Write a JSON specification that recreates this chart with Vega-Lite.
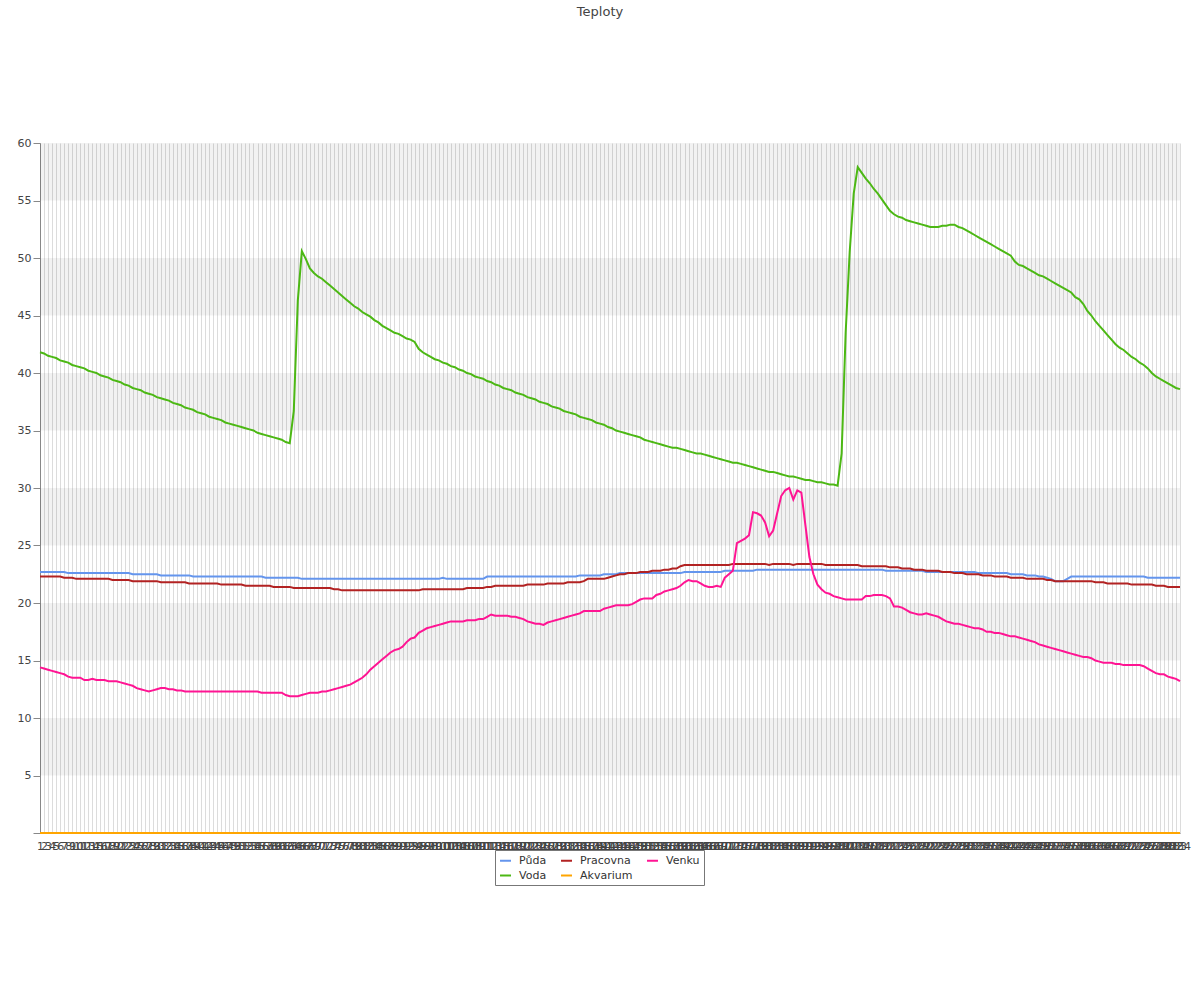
{
"$schema": "https://vega.github.io/schema/vega-lite/v6.json",
"width": 1140,
"height": 690,
"autosize": {"type": "none"},
"padding": {"left": 40, "top": 143, "right": 20, "bottom": 167},
"background": "white",
"title": {"text": "Teploty", "font": "DejaVu Sans", "fontSize": 13, "fontWeight": "normal", "color": "#444444", "frame": "group", "offset": 118, "dx": -10},
"config": {"view": {"stroke": null}, "font": "DejaVu Sans",
"axisY": {"title": null, "values": [0,1,2,3,4,5,6,7,8,9,10,11,12,13,14,15,16,17,18,19,20,21,22,23,24,25,26,27,28,29,30,31,32,33,34,35,36,37,38,39,40,41,42,43,44,45,46,47,48,49,50,51,52,53,54,55,56,57,58,59,60],
"labelExpr": "datum.value % 5 === 0 && datum.value > 0 ? datum.label : ''",
"tickSize": {"condition": {"test": "datum.value % 5 === 0", "value": 7}, "value": 3},
"gridOpacity": {"condition": {"test": "datum.value % 5 === 0 && datum.value > 0", "value": 1}, "value": 0},
"gridColor": "#dcdcdc", "tickColor": "#888888", "domainColor": "#888888", "labelFontSize": 11, "labelColor": "#444444", "labelFont": "DejaVu Sans", "labelPadding": 2}
},
"datasets": {
"bands": [{"lo": 5, "hi": 10}, {"lo": 15, "hi": 20}, {"lo": 25, "hi": 30}, {"lo": 35, "hi": 40}, {"lo": 45, "hi": 50}, {"lo": 55, "hi": 60}],
"t": [
{"i":1,"Půda":22.7,"Voda":41.8,"Pracovna":22.3,"Akvarium":0,"Venku":14.4},
{"i":2,"Půda":22.7,"Voda":41.7,"Pracovna":22.3,"Akvarium":0,"Venku":14.3},
{"i":3,"Půda":22.7,"Voda":41.5,"Pracovna":22.3,"Akvarium":0,"Venku":14.2},
{"i":4,"Půda":22.7,"Voda":41.4,"Pracovna":22.3,"Akvarium":0,"Venku":14.1},
{"i":5,"Půda":22.7,"Voda":41.3,"Pracovna":22.3,"Akvarium":0,"Venku":14.0},
{"i":6,"Půda":22.7,"Voda":41.1,"Pracovna":22.3,"Akvarium":0,"Venku":13.9},
{"i":7,"Půda":22.7,"Voda":41.0,"Pracovna":22.2,"Akvarium":0,"Venku":13.8},
{"i":8,"Půda":22.6,"Voda":40.9,"Pracovna":22.2,"Akvarium":0,"Venku":13.6},
{"i":9,"Půda":22.6,"Voda":40.7,"Pracovna":22.2,"Akvarium":0,"Venku":13.5},
{"i":10,"Půda":22.6,"Voda":40.6,"Pracovna":22.1,"Akvarium":0,"Venku":13.5},
{"i":11,"Půda":22.6,"Voda":40.5,"Pracovna":22.1,"Akvarium":0,"Venku":13.5},
{"i":12,"Půda":22.6,"Voda":40.4,"Pracovna":22.1,"Akvarium":0,"Venku":13.3},
{"i":13,"Půda":22.6,"Voda":40.2,"Pracovna":22.1,"Akvarium":0,"Venku":13.3},
{"i":14,"Půda":22.6,"Voda":40.1,"Pracovna":22.1,"Akvarium":0,"Venku":13.4},
{"i":15,"Půda":22.6,"Voda":40.0,"Pracovna":22.1,"Akvarium":0,"Venku":13.3},
{"i":16,"Půda":22.6,"Voda":39.8,"Pracovna":22.1,"Akvarium":0,"Venku":13.3},
{"i":17,"Půda":22.6,"Voda":39.7,"Pracovna":22.1,"Akvarium":0,"Venku":13.3},
{"i":18,"Půda":22.6,"Voda":39.6,"Pracovna":22.1,"Akvarium":0,"Venku":13.2},
{"i":19,"Půda":22.6,"Voda":39.4,"Pracovna":22.0,"Akvarium":0,"Venku":13.2},
{"i":20,"Půda":22.6,"Voda":39.3,"Pracovna":22.0,"Akvarium":0,"Venku":13.2},
{"i":21,"Půda":22.6,"Voda":39.2,"Pracovna":22.0,"Akvarium":0,"Venku":13.1},
{"i":22,"Půda":22.6,"Voda":39.0,"Pracovna":22.0,"Akvarium":0,"Venku":13.0},
{"i":23,"Půda":22.6,"Voda":38.9,"Pracovna":22.0,"Akvarium":0,"Venku":12.9},
{"i":24,"Půda":22.5,"Voda":38.7,"Pracovna":21.9,"Akvarium":0,"Venku":12.8},
{"i":25,"Půda":22.5,"Voda":38.6,"Pracovna":21.9,"Akvarium":0,"Venku":12.6},
{"i":26,"Půda":22.5,"Voda":38.5,"Pracovna":21.9,"Akvarium":0,"Venku":12.5},
{"i":27,"Půda":22.5,"Voda":38.3,"Pracovna":21.9,"Akvarium":0,"Venku":12.4},
{"i":28,"Půda":22.5,"Voda":38.2,"Pracovna":21.9,"Akvarium":0,"Venku":12.3},
{"i":29,"Půda":22.5,"Voda":38.1,"Pracovna":21.9,"Akvarium":0,"Venku":12.4},
{"i":30,"Půda":22.5,"Voda":37.9,"Pracovna":21.9,"Akvarium":0,"Venku":12.5},
{"i":31,"Půda":22.4,"Voda":37.8,"Pracovna":21.8,"Akvarium":0,"Venku":12.6},
{"i":32,"Půda":22.4,"Voda":37.7,"Pracovna":21.8,"Akvarium":0,"Venku":12.6},
{"i":33,"Půda":22.4,"Voda":37.6,"Pracovna":21.8,"Akvarium":0,"Venku":12.5},
{"i":34,"Půda":22.4,"Voda":37.4,"Pracovna":21.8,"Akvarium":0,"Venku":12.5},
{"i":35,"Půda":22.4,"Voda":37.3,"Pracovna":21.8,"Akvarium":0,"Venku":12.4},
{"i":36,"Půda":22.4,"Voda":37.2,"Pracovna":21.8,"Akvarium":0,"Venku":12.4},
{"i":37,"Půda":22.4,"Voda":37.0,"Pracovna":21.8,"Akvarium":0,"Venku":12.3},
{"i":38,"Půda":22.4,"Voda":36.9,"Pracovna":21.7,"Akvarium":0,"Venku":12.3},
{"i":39,"Půda":22.3,"Voda":36.8,"Pracovna":21.7,"Akvarium":0,"Venku":12.3},
{"i":40,"Půda":22.3,"Voda":36.6,"Pracovna":21.7,"Akvarium":0,"Venku":12.3},
{"i":41,"Půda":22.3,"Voda":36.5,"Pracovna":21.7,"Akvarium":0,"Venku":12.3},
{"i":42,"Půda":22.3,"Voda":36.4,"Pracovna":21.7,"Akvarium":0,"Venku":12.3},
{"i":43,"Půda":22.3,"Voda":36.2,"Pracovna":21.7,"Akvarium":0,"Venku":12.3},
{"i":44,"Půda":22.3,"Voda":36.1,"Pracovna":21.7,"Akvarium":0,"Venku":12.3},
{"i":45,"Půda":22.3,"Voda":36.0,"Pracovna":21.7,"Akvarium":0,"Venku":12.3},
{"i":46,"Půda":22.3,"Voda":35.9,"Pracovna":21.6,"Akvarium":0,"Venku":12.3},
{"i":47,"Půda":22.3,"Voda":35.7,"Pracovna":21.6,"Akvarium":0,"Venku":12.3},
{"i":48,"Půda":22.3,"Voda":35.6,"Pracovna":21.6,"Akvarium":0,"Venku":12.3},
{"i":49,"Půda":22.3,"Voda":35.5,"Pracovna":21.6,"Akvarium":0,"Venku":12.3},
{"i":50,"Půda":22.3,"Voda":35.4,"Pracovna":21.6,"Akvarium":0,"Venku":12.3},
{"i":51,"Půda":22.3,"Voda":35.3,"Pracovna":21.6,"Akvarium":0,"Venku":12.3},
{"i":52,"Půda":22.3,"Voda":35.2,"Pracovna":21.5,"Akvarium":0,"Venku":12.3},
{"i":53,"Půda":22.3,"Voda":35.1,"Pracovna":21.5,"Akvarium":0,"Venku":12.3},
{"i":54,"Půda":22.3,"Voda":35.0,"Pracovna":21.5,"Akvarium":0,"Venku":12.3},
{"i":55,"Půda":22.3,"Voda":34.8,"Pracovna":21.5,"Akvarium":0,"Venku":12.3},
{"i":56,"Půda":22.3,"Voda":34.7,"Pracovna":21.5,"Akvarium":0,"Venku":12.2},
{"i":57,"Půda":22.2,"Voda":34.6,"Pracovna":21.5,"Akvarium":0,"Venku":12.2},
{"i":58,"Půda":22.2,"Voda":34.5,"Pracovna":21.5,"Akvarium":0,"Venku":12.2},
{"i":59,"Půda":22.2,"Voda":34.4,"Pracovna":21.4,"Akvarium":0,"Venku":12.2},
{"i":60,"Půda":22.2,"Voda":34.3,"Pracovna":21.4,"Akvarium":0,"Venku":12.2},
{"i":61,"Půda":22.2,"Voda":34.2,"Pracovna":21.4,"Akvarium":0,"Venku":12.2},
{"i":62,"Půda":22.2,"Voda":34.0,"Pracovna":21.4,"Akvarium":0,"Venku":12.0},
{"i":63,"Půda":22.2,"Voda":33.9,"Pracovna":21.4,"Akvarium":0,"Venku":11.9},
{"i":64,"Půda":22.2,"Voda":36.7,"Pracovna":21.3,"Akvarium":0,"Venku":11.9},
{"i":65,"Půda":22.2,"Voda":46.3,"Pracovna":21.3,"Akvarium":0,"Venku":11.9},
{"i":66,"Půda":22.1,"Voda":50.6,"Pracovna":21.3,"Akvarium":0,"Venku":12.0},
{"i":67,"Půda":22.1,"Voda":49.9,"Pracovna":21.3,"Akvarium":0,"Venku":12.1},
{"i":68,"Půda":22.1,"Voda":49.1,"Pracovna":21.3,"Akvarium":0,"Venku":12.2},
{"i":69,"Půda":22.1,"Voda":48.7,"Pracovna":21.3,"Akvarium":0,"Venku":12.2},
{"i":70,"Půda":22.1,"Voda":48.4,"Pracovna":21.3,"Akvarium":0,"Venku":12.2},
{"i":71,"Půda":22.1,"Voda":48.2,"Pracovna":21.3,"Akvarium":0,"Venku":12.3},
{"i":72,"Půda":22.1,"Voda":47.9,"Pracovna":21.3,"Akvarium":0,"Venku":12.3},
{"i":73,"Půda":22.1,"Voda":47.6,"Pracovna":21.3,"Akvarium":0,"Venku":12.4},
{"i":74,"Půda":22.1,"Voda":47.3,"Pracovna":21.2,"Akvarium":0,"Venku":12.5},
{"i":75,"Půda":22.1,"Voda":47.0,"Pracovna":21.2,"Akvarium":0,"Venku":12.6},
{"i":76,"Půda":22.1,"Voda":46.7,"Pracovna":21.1,"Akvarium":0,"Venku":12.7},
{"i":77,"Půda":22.1,"Voda":46.4,"Pracovna":21.1,"Akvarium":0,"Venku":12.8},
{"i":78,"Půda":22.1,"Voda":46.1,"Pracovna":21.1,"Akvarium":0,"Venku":12.9},
{"i":79,"Půda":22.1,"Voda":45.8,"Pracovna":21.1,"Akvarium":0,"Venku":13.1},
{"i":80,"Půda":22.1,"Voda":45.6,"Pracovna":21.1,"Akvarium":0,"Venku":13.3},
{"i":81,"Půda":22.1,"Voda":45.3,"Pracovna":21.1,"Akvarium":0,"Venku":13.5},
{"i":82,"Půda":22.1,"Voda":45.1,"Pracovna":21.1,"Akvarium":0,"Venku":13.8},
{"i":83,"Půda":22.1,"Voda":44.9,"Pracovna":21.1,"Akvarium":0,"Venku":14.2},
{"i":84,"Půda":22.1,"Voda":44.6,"Pracovna":21.1,"Akvarium":0,"Venku":14.5},
{"i":85,"Půda":22.1,"Voda":44.4,"Pracovna":21.1,"Akvarium":0,"Venku":14.8},
{"i":86,"Půda":22.1,"Voda":44.1,"Pracovna":21.1,"Akvarium":0,"Venku":15.1},
{"i":87,"Půda":22.1,"Voda":43.9,"Pracovna":21.1,"Akvarium":0,"Venku":15.4},
{"i":88,"Půda":22.1,"Voda":43.7,"Pracovna":21.1,"Akvarium":0,"Venku":15.7},
{"i":89,"Půda":22.1,"Voda":43.5,"Pracovna":21.1,"Akvarium":0,"Venku":15.9},
{"i":90,"Půda":22.1,"Voda":43.4,"Pracovna":21.1,"Akvarium":0,"Venku":16.0},
{"i":91,"Půda":22.1,"Voda":43.2,"Pracovna":21.1,"Akvarium":0,"Venku":16.2},
{"i":92,"Půda":22.1,"Voda":43.0,"Pracovna":21.1,"Akvarium":0,"Venku":16.6},
{"i":93,"Půda":22.1,"Voda":42.9,"Pracovna":21.1,"Akvarium":0,"Venku":16.9},
{"i":94,"Půda":22.1,"Voda":42.7,"Pracovna":21.1,"Akvarium":0,"Venku":17.0},
{"i":95,"Půda":22.1,"Voda":42.1,"Pracovna":21.1,"Akvarium":0,"Venku":17.4},
{"i":96,"Půda":22.1,"Voda":41.8,"Pracovna":21.2,"Akvarium":0,"Venku":17.6},
{"i":97,"Půda":22.1,"Voda":41.6,"Pracovna":21.2,"Akvarium":0,"Venku":17.8},
{"i":98,"Půda":22.1,"Voda":41.4,"Pracovna":21.2,"Akvarium":0,"Venku":17.9},
{"i":99,"Půda":22.1,"Voda":41.2,"Pracovna":21.2,"Akvarium":0,"Venku":18.0},
{"i":100,"Půda":22.1,"Voda":41.1,"Pracovna":21.2,"Akvarium":0,"Venku":18.1},
{"i":101,"Půda":22.2,"Voda":40.9,"Pracovna":21.2,"Akvarium":0,"Venku":18.2},
{"i":102,"Půda":22.1,"Voda":40.8,"Pracovna":21.2,"Akvarium":0,"Venku":18.3},
{"i":103,"Půda":22.1,"Voda":40.6,"Pracovna":21.2,"Akvarium":0,"Venku":18.4},
{"i":104,"Půda":22.1,"Voda":40.5,"Pracovna":21.2,"Akvarium":0,"Venku":18.4},
{"i":105,"Půda":22.1,"Voda":40.3,"Pracovna":21.2,"Akvarium":0,"Venku":18.4},
{"i":106,"Půda":22.1,"Voda":40.2,"Pracovna":21.2,"Akvarium":0,"Venku":18.4},
{"i":107,"Půda":22.1,"Voda":40.0,"Pracovna":21.3,"Akvarium":0,"Venku":18.5},
{"i":108,"Půda":22.1,"Voda":39.9,"Pracovna":21.3,"Akvarium":0,"Venku":18.5},
{"i":109,"Půda":22.1,"Voda":39.7,"Pracovna":21.3,"Akvarium":0,"Venku":18.5},
{"i":110,"Půda":22.1,"Voda":39.6,"Pracovna":21.3,"Akvarium":0,"Venku":18.6},
{"i":111,"Půda":22.1,"Voda":39.5,"Pracovna":21.3,"Akvarium":0,"Venku":18.6},
{"i":112,"Půda":22.3,"Voda":39.3,"Pracovna":21.4,"Akvarium":0,"Venku":18.8},
{"i":113,"Půda":22.3,"Voda":39.2,"Pracovna":21.4,"Akvarium":0,"Venku":19.0},
{"i":114,"Půda":22.3,"Voda":39.0,"Pracovna":21.5,"Akvarium":0,"Venku":18.9},
{"i":115,"Půda":22.3,"Voda":38.9,"Pracovna":21.5,"Akvarium":0,"Venku":18.9},
{"i":116,"Půda":22.3,"Voda":38.7,"Pracovna":21.5,"Akvarium":0,"Venku":18.9},
{"i":117,"Půda":22.3,"Voda":38.6,"Pracovna":21.5,"Akvarium":0,"Venku":18.9},
{"i":118,"Půda":22.3,"Voda":38.5,"Pracovna":21.5,"Akvarium":0,"Venku":18.8},
{"i":119,"Půda":22.3,"Voda":38.3,"Pracovna":21.5,"Akvarium":0,"Venku":18.8},
{"i":120,"Půda":22.3,"Voda":38.2,"Pracovna":21.5,"Akvarium":0,"Venku":18.7},
{"i":121,"Půda":22.3,"Voda":38.1,"Pracovna":21.5,"Akvarium":0,"Venku":18.6},
{"i":122,"Půda":22.3,"Voda":37.9,"Pracovna":21.6,"Akvarium":0,"Venku":18.4},
{"i":123,"Půda":22.3,"Voda":37.8,"Pracovna":21.6,"Akvarium":0,"Venku":18.3},
{"i":124,"Půda":22.3,"Voda":37.7,"Pracovna":21.6,"Akvarium":0,"Venku":18.2},
{"i":125,"Půda":22.3,"Voda":37.5,"Pracovna":21.6,"Akvarium":0,"Venku":18.2},
{"i":126,"Půda":22.3,"Voda":37.4,"Pracovna":21.6,"Akvarium":0,"Venku":18.1},
{"i":127,"Půda":22.3,"Voda":37.3,"Pracovna":21.7,"Akvarium":0,"Venku":18.3},
{"i":128,"Půda":22.3,"Voda":37.1,"Pracovna":21.7,"Akvarium":0,"Venku":18.4},
{"i":129,"Půda":22.3,"Voda":37.0,"Pracovna":21.7,"Akvarium":0,"Venku":18.5},
{"i":130,"Půda":22.3,"Voda":36.9,"Pracovna":21.7,"Akvarium":0,"Venku":18.6},
{"i":131,"Půda":22.3,"Voda":36.7,"Pracovna":21.7,"Akvarium":0,"Venku":18.7},
{"i":132,"Půda":22.3,"Voda":36.6,"Pracovna":21.8,"Akvarium":0,"Venku":18.8},
{"i":133,"Půda":22.3,"Voda":36.5,"Pracovna":21.8,"Akvarium":0,"Venku":18.9},
{"i":134,"Půda":22.3,"Voda":36.4,"Pracovna":21.8,"Akvarium":0,"Venku":19.0},
{"i":135,"Půda":22.4,"Voda":36.2,"Pracovna":21.8,"Akvarium":0,"Venku":19.1},
{"i":136,"Půda":22.4,"Voda":36.1,"Pracovna":21.9,"Akvarium":0,"Venku":19.3},
{"i":137,"Půda":22.4,"Voda":36.0,"Pracovna":22.1,"Akvarium":0,"Venku":19.3},
{"i":138,"Půda":22.4,"Voda":35.9,"Pracovna":22.1,"Akvarium":0,"Venku":19.3},
{"i":139,"Půda":22.4,"Voda":35.7,"Pracovna":22.1,"Akvarium":0,"Venku":19.3},
{"i":140,"Půda":22.4,"Voda":35.6,"Pracovna":22.1,"Akvarium":0,"Venku":19.3},
{"i":141,"Půda":22.5,"Voda":35.5,"Pracovna":22.1,"Akvarium":0,"Venku":19.5},
{"i":142,"Půda":22.5,"Voda":35.3,"Pracovna":22.2,"Akvarium":0,"Venku":19.6},
{"i":143,"Půda":22.5,"Voda":35.2,"Pracovna":22.3,"Akvarium":0,"Venku":19.7},
{"i":144,"Půda":22.5,"Voda":35.0,"Pracovna":22.4,"Akvarium":0,"Venku":19.8},
{"i":145,"Půda":22.6,"Voda":34.9,"Pracovna":22.5,"Akvarium":0,"Venku":19.8},
{"i":146,"Půda":22.6,"Voda":34.8,"Pracovna":22.5,"Akvarium":0,"Venku":19.8},
{"i":147,"Půda":22.6,"Voda":34.7,"Pracovna":22.6,"Akvarium":0,"Venku":19.8},
{"i":148,"Půda":22.6,"Voda":34.6,"Pracovna":22.6,"Akvarium":0,"Venku":19.9},
{"i":149,"Půda":22.6,"Voda":34.5,"Pracovna":22.6,"Akvarium":0,"Venku":20.1},
{"i":150,"Půda":22.6,"Voda":34.4,"Pracovna":22.7,"Akvarium":0,"Venku":20.3},
{"i":151,"Půda":22.6,"Voda":34.2,"Pracovna":22.7,"Akvarium":0,"Venku":20.4},
{"i":152,"Půda":22.6,"Voda":34.1,"Pracovna":22.7,"Akvarium":0,"Venku":20.4},
{"i":153,"Půda":22.6,"Voda":34.0,"Pracovna":22.8,"Akvarium":0,"Venku":20.4},
{"i":154,"Půda":22.6,"Voda":33.9,"Pracovna":22.8,"Akvarium":0,"Venku":20.7},
{"i":155,"Půda":22.6,"Voda":33.8,"Pracovna":22.8,"Akvarium":0,"Venku":20.8},
{"i":156,"Půda":22.6,"Voda":33.7,"Pracovna":22.9,"Akvarium":0,"Venku":21.0},
{"i":157,"Půda":22.6,"Voda":33.6,"Pracovna":22.9,"Akvarium":0,"Venku":21.1},
{"i":158,"Půda":22.6,"Voda":33.5,"Pracovna":23.0,"Akvarium":0,"Venku":21.2},
{"i":159,"Půda":22.6,"Voda":33.5,"Pracovna":23.0,"Akvarium":0,"Venku":21.3},
{"i":160,"Půda":22.6,"Voda":33.4,"Pracovna":23.2,"Akvarium":0,"Venku":21.5},
{"i":161,"Půda":22.7,"Voda":33.3,"Pracovna":23.3,"Akvarium":0,"Venku":21.8},
{"i":162,"Půda":22.7,"Voda":33.2,"Pracovna":23.3,"Akvarium":0,"Venku":22.0},
{"i":163,"Půda":22.7,"Voda":33.1,"Pracovna":23.3,"Akvarium":0,"Venku":21.9},
{"i":164,"Půda":22.7,"Voda":33.0,"Pracovna":23.3,"Akvarium":0,"Venku":21.9},
{"i":165,"Půda":22.7,"Voda":33.0,"Pracovna":23.3,"Akvarium":0,"Venku":21.7},
{"i":166,"Půda":22.7,"Voda":32.9,"Pracovna":23.3,"Akvarium":0,"Venku":21.5},
{"i":167,"Půda":22.7,"Voda":32.8,"Pracovna":23.3,"Akvarium":0,"Venku":21.4},
{"i":168,"Půda":22.7,"Voda":32.7,"Pracovna":23.3,"Akvarium":0,"Venku":21.4},
{"i":169,"Půda":22.7,"Voda":32.6,"Pracovna":23.3,"Akvarium":0,"Venku":21.5},
{"i":170,"Půda":22.7,"Voda":32.5,"Pracovna":23.3,"Akvarium":0,"Venku":21.4},
{"i":171,"Půda":22.8,"Voda":32.4,"Pracovna":23.3,"Akvarium":0,"Venku":22.2},
{"i":172,"Půda":22.8,"Voda":32.3,"Pracovna":23.3,"Akvarium":0,"Venku":22.5},
{"i":173,"Půda":22.8,"Voda":32.2,"Pracovna":23.4,"Akvarium":0,"Venku":22.8},
{"i":174,"Půda":22.8,"Voda":32.2,"Pracovna":23.4,"Akvarium":0,"Venku":25.2},
{"i":175,"Půda":22.8,"Voda":32.1,"Pracovna":23.4,"Akvarium":0,"Venku":25.4},
{"i":176,"Půda":22.8,"Voda":32.0,"Pracovna":23.4,"Akvarium":0,"Venku":25.6},
{"i":177,"Půda":22.8,"Voda":31.9,"Pracovna":23.4,"Akvarium":0,"Venku":25.9},
{"i":178,"Půda":22.8,"Voda":31.8,"Pracovna":23.4,"Akvarium":0,"Venku":27.9},
{"i":179,"Půda":22.9,"Voda":31.7,"Pracovna":23.4,"Akvarium":0,"Venku":27.8},
{"i":180,"Půda":22.9,"Voda":31.6,"Pracovna":23.4,"Akvarium":0,"Venku":27.6},
{"i":181,"Půda":22.9,"Voda":31.5,"Pracovna":23.4,"Akvarium":0,"Venku":27.0},
{"i":182,"Půda":22.9,"Voda":31.4,"Pracovna":23.3,"Akvarium":0,"Venku":25.8},
{"i":183,"Půda":22.9,"Voda":31.4,"Pracovna":23.4,"Akvarium":0,"Venku":26.3},
{"i":184,"Půda":22.9,"Voda":31.3,"Pracovna":23.4,"Akvarium":0,"Venku":27.8},
{"i":185,"Půda":22.9,"Voda":31.2,"Pracovna":23.4,"Akvarium":0,"Venku":29.3},
{"i":186,"Půda":22.9,"Voda":31.1,"Pracovna":23.4,"Akvarium":0,"Venku":29.8},
{"i":187,"Půda":22.9,"Voda":31.0,"Pracovna":23.4,"Akvarium":0,"Venku":30.0},
{"i":188,"Půda":22.9,"Voda":31.0,"Pracovna":23.3,"Akvarium":0,"Venku":29.0},
{"i":189,"Půda":22.9,"Voda":30.9,"Pracovna":23.4,"Akvarium":0,"Venku":29.8},
{"i":190,"Půda":22.9,"Voda":30.8,"Pracovna":23.4,"Akvarium":0,"Venku":29.6},
{"i":191,"Půda":22.9,"Voda":30.7,"Pracovna":23.4,"Akvarium":0,"Venku":26.8},
{"i":192,"Půda":22.9,"Voda":30.7,"Pracovna":23.4,"Akvarium":0,"Venku":24.0},
{"i":193,"Půda":22.9,"Voda":30.6,"Pracovna":23.4,"Akvarium":0,"Venku":22.5},
{"i":194,"Půda":22.9,"Voda":30.5,"Pracovna":23.4,"Akvarium":0,"Venku":21.6},
{"i":195,"Půda":22.9,"Voda":30.5,"Pracovna":23.4,"Akvarium":0,"Venku":21.2},
{"i":196,"Půda":22.9,"Voda":30.4,"Pracovna":23.3,"Akvarium":0,"Venku":20.9},
{"i":197,"Půda":22.9,"Voda":30.3,"Pracovna":23.3,"Akvarium":0,"Venku":20.8},
{"i":198,"Půda":22.9,"Voda":30.3,"Pracovna":23.3,"Akvarium":0,"Venku":20.6},
{"i":199,"Půda":22.9,"Voda":30.2,"Pracovna":23.3,"Akvarium":0,"Venku":20.5},
{"i":200,"Půda":22.9,"Voda":33.0,"Pracovna":23.3,"Akvarium":0,"Venku":20.4},
{"i":201,"Půda":22.9,"Voda":43.5,"Pracovna":23.3,"Akvarium":0,"Venku":20.3},
{"i":202,"Půda":22.9,"Voda":50.5,"Pracovna":23.3,"Akvarium":0,"Venku":20.3},
{"i":203,"Půda":22.9,"Voda":55.6,"Pracovna":23.3,"Akvarium":0,"Venku":20.3},
{"i":204,"Půda":22.9,"Voda":57.9,"Pracovna":23.3,"Akvarium":0,"Venku":20.3},
{"i":205,"Půda":22.9,"Voda":57.4,"Pracovna":23.2,"Akvarium":0,"Venku":20.3},
{"i":206,"Půda":22.9,"Voda":56.9,"Pracovna":23.2,"Akvarium":0,"Venku":20.6},
{"i":207,"Půda":22.9,"Voda":56.5,"Pracovna":23.2,"Akvarium":0,"Venku":20.6},
{"i":208,"Půda":22.9,"Voda":56.0,"Pracovna":23.2,"Akvarium":0,"Venku":20.7},
{"i":209,"Půda":22.9,"Voda":55.6,"Pracovna":23.2,"Akvarium":0,"Venku":20.7},
{"i":210,"Půda":22.9,"Voda":55.1,"Pracovna":23.2,"Akvarium":0,"Venku":20.7},
{"i":211,"Půda":22.8,"Voda":54.6,"Pracovna":23.2,"Akvarium":0,"Venku":20.6},
{"i":212,"Půda":22.8,"Voda":54.1,"Pracovna":23.1,"Akvarium":0,"Venku":20.4},
{"i":213,"Půda":22.8,"Voda":53.8,"Pracovna":23.1,"Akvarium":0,"Venku":19.7},
{"i":214,"Půda":22.8,"Voda":53.6,"Pracovna":23.1,"Akvarium":0,"Venku":19.7},
{"i":215,"Půda":22.8,"Voda":53.5,"Pracovna":23.0,"Akvarium":0,"Venku":19.6},
{"i":216,"Půda":22.8,"Voda":53.3,"Pracovna":23.0,"Akvarium":0,"Venku":19.4},
{"i":217,"Půda":22.8,"Voda":53.2,"Pracovna":23.0,"Akvarium":0,"Venku":19.2},
{"i":218,"Půda":22.8,"Voda":53.1,"Pracovna":22.9,"Akvarium":0,"Venku":19.1},
{"i":219,"Půda":22.8,"Voda":53.0,"Pracovna":22.9,"Akvarium":0,"Venku":19.0},
{"i":220,"Půda":22.8,"Voda":52.9,"Pracovna":22.9,"Akvarium":0,"Venku":19.0},
{"i":221,"Půda":22.7,"Voda":52.8,"Pracovna":22.8,"Akvarium":0,"Venku":19.1},
{"i":222,"Půda":22.7,"Voda":52.7,"Pracovna":22.8,"Akvarium":0,"Venku":19.0},
{"i":223,"Půda":22.7,"Voda":52.7,"Pracovna":22.8,"Akvarium":0,"Venku":18.9},
{"i":224,"Půda":22.7,"Voda":52.7,"Pracovna":22.8,"Akvarium":0,"Venku":18.8},
{"i":225,"Půda":22.7,"Voda":52.8,"Pracovna":22.7,"Akvarium":0,"Venku":18.6},
{"i":226,"Půda":22.7,"Voda":52.8,"Pracovna":22.7,"Akvarium":0,"Venku":18.4},
{"i":227,"Půda":22.7,"Voda":52.9,"Pracovna":22.7,"Akvarium":0,"Venku":18.3},
{"i":228,"Půda":22.7,"Voda":52.9,"Pracovna":22.6,"Akvarium":0,"Venku":18.2},
{"i":229,"Půda":22.7,"Voda":52.7,"Pracovna":22.6,"Akvarium":0,"Venku":18.2},
{"i":230,"Půda":22.7,"Voda":52.6,"Pracovna":22.6,"Akvarium":0,"Venku":18.1},
{"i":231,"Půda":22.7,"Voda":52.4,"Pracovna":22.5,"Akvarium":0,"Venku":18.0},
{"i":232,"Půda":22.7,"Voda":52.2,"Pracovna":22.5,"Akvarium":0,"Venku":17.9},
{"i":233,"Půda":22.7,"Voda":52.0,"Pracovna":22.5,"Akvarium":0,"Venku":17.8},
{"i":234,"Půda":22.6,"Voda":51.8,"Pracovna":22.5,"Akvarium":0,"Venku":17.8},
{"i":235,"Půda":22.6,"Voda":51.6,"Pracovna":22.4,"Akvarium":0,"Venku":17.7},
{"i":236,"Půda":22.6,"Voda":51.4,"Pracovna":22.4,"Akvarium":0,"Venku":17.5},
{"i":237,"Půda":22.6,"Voda":51.2,"Pracovna":22.4,"Akvarium":0,"Venku":17.5},
{"i":238,"Půda":22.6,"Voda":51.0,"Pracovna":22.3,"Akvarium":0,"Venku":17.4},
{"i":239,"Půda":22.6,"Voda":50.8,"Pracovna":22.3,"Akvarium":0,"Venku":17.4},
{"i":240,"Půda":22.6,"Voda":50.6,"Pracovna":22.3,"Akvarium":0,"Venku":17.3},
{"i":241,"Půda":22.6,"Voda":50.4,"Pracovna":22.3,"Akvarium":0,"Venku":17.2},
{"i":242,"Půda":22.5,"Voda":50.2,"Pracovna":22.2,"Akvarium":0,"Venku":17.1},
{"i":243,"Půda":22.5,"Voda":49.7,"Pracovna":22.2,"Akvarium":0,"Venku":17.1},
{"i":244,"Půda":22.5,"Voda":49.4,"Pracovna":22.2,"Akvarium":0,"Venku":17.0},
{"i":245,"Půda":22.5,"Voda":49.3,"Pracovna":22.2,"Akvarium":0,"Venku":16.9},
{"i":246,"Půda":22.4,"Voda":49.1,"Pracovna":22.1,"Akvarium":0,"Venku":16.8},
{"i":247,"Půda":22.4,"Voda":48.9,"Pracovna":22.1,"Akvarium":0,"Venku":16.7},
{"i":248,"Půda":22.4,"Voda":48.7,"Pracovna":22.1,"Akvarium":0,"Venku":16.6},
{"i":249,"Půda":22.3,"Voda":48.5,"Pracovna":22.1,"Akvarium":0,"Venku":16.4},
{"i":250,"Půda":22.3,"Voda":48.4,"Pracovna":22.1,"Akvarium":0,"Venku":16.3},
{"i":251,"Půda":22.2,"Voda":48.2,"Pracovna":22.0,"Akvarium":0,"Venku":16.2},
{"i":252,"Půda":22.1,"Voda":48.0,"Pracovna":22.0,"Akvarium":0,"Venku":16.1},
{"i":253,"Půda":21.9,"Voda":47.8,"Pracovna":21.9,"Akvarium":0,"Venku":16.0},
{"i":254,"Půda":21.9,"Voda":47.6,"Pracovna":21.9,"Akvarium":0,"Venku":15.9},
{"i":255,"Půda":21.9,"Voda":47.4,"Pracovna":21.9,"Akvarium":0,"Venku":15.8},
{"i":256,"Půda":22.1,"Voda":47.2,"Pracovna":21.9,"Akvarium":0,"Venku":15.7},
{"i":257,"Půda":22.3,"Voda":47.0,"Pracovna":21.9,"Akvarium":0,"Venku":15.6},
{"i":258,"Půda":22.3,"Voda":46.6,"Pracovna":21.9,"Akvarium":0,"Venku":15.5},
{"i":259,"Půda":22.3,"Voda":46.4,"Pracovna":21.9,"Akvarium":0,"Venku":15.4},
{"i":260,"Půda":22.3,"Voda":46.0,"Pracovna":21.9,"Akvarium":0,"Venku":15.3},
{"i":261,"Půda":22.3,"Voda":45.4,"Pracovna":21.9,"Akvarium":0,"Venku":15.3},
{"i":262,"Půda":22.3,"Voda":45.0,"Pracovna":21.9,"Akvarium":0,"Venku":15.2},
{"i":263,"Půda":22.3,"Voda":44.5,"Pracovna":21.8,"Akvarium":0,"Venku":15.0},
{"i":264,"Půda":22.3,"Voda":44.1,"Pracovna":21.8,"Akvarium":0,"Venku":14.9},
{"i":265,"Půda":22.3,"Voda":43.7,"Pracovna":21.8,"Akvarium":0,"Venku":14.8},
{"i":266,"Půda":22.3,"Voda":43.3,"Pracovna":21.7,"Akvarium":0,"Venku":14.8},
{"i":267,"Půda":22.3,"Voda":42.9,"Pracovna":21.7,"Akvarium":0,"Venku":14.8},
{"i":268,"Půda":22.3,"Voda":42.5,"Pracovna":21.7,"Akvarium":0,"Venku":14.7},
{"i":269,"Půda":22.3,"Voda":42.2,"Pracovna":21.7,"Akvarium":0,"Venku":14.7},
{"i":270,"Půda":22.3,"Voda":42.0,"Pracovna":21.7,"Akvarium":0,"Venku":14.6},
{"i":271,"Půda":22.3,"Voda":41.7,"Pracovna":21.7,"Akvarium":0,"Venku":14.6},
{"i":272,"Půda":22.3,"Voda":41.4,"Pracovna":21.6,"Akvarium":0,"Venku":14.6},
{"i":273,"Půda":22.3,"Voda":41.2,"Pracovna":21.6,"Akvarium":0,"Venku":14.6},
{"i":274,"Půda":22.3,"Voda":40.9,"Pracovna":21.6,"Akvarium":0,"Venku":14.6},
{"i":275,"Půda":22.3,"Voda":40.7,"Pracovna":21.6,"Akvarium":0,"Venku":14.5},
{"i":276,"Půda":22.2,"Voda":40.4,"Pracovna":21.6,"Akvarium":0,"Venku":14.3},
{"i":277,"Půda":22.2,"Voda":40.0,"Pracovna":21.6,"Akvarium":0,"Venku":14.1},
{"i":278,"Půda":22.2,"Voda":39.7,"Pracovna":21.5,"Akvarium":0,"Venku":13.9},
{"i":279,"Půda":22.2,"Voda":39.5,"Pracovna":21.5,"Akvarium":0,"Venku":13.8},
{"i":280,"Půda":22.2,"Voda":39.3,"Pracovna":21.5,"Akvarium":0,"Venku":13.8},
{"i":281,"Půda":22.2,"Voda":39.1,"Pracovna":21.4,"Akvarium":0,"Venku":13.6},
{"i":282,"Půda":22.2,"Voda":38.9,"Pracovna":21.4,"Akvarium":0,"Venku":13.5},
{"i":283,"Půda":22.2,"Voda":38.7,"Pracovna":21.4,"Akvarium":0,"Venku":13.4},
{"i":284,"Půda":22.2,"Voda":38.6,"Pracovna":21.4,"Akvarium":0,"Venku":13.2}
]
},
"layer": [
{
"data": {"name": "bands"},
"mark": {"type": "rect", "color": "#000000", "opacity": 0.05},
"encoding": {
"y": {"field": "lo", "type": "quantitative", "scale": {"domain": [0, 60], "nice": false}, "axis": {"title": null}},
"y2": {"field": "hi"}
}
},
{
"data": {"name": "t"},
"transform": [{"fold": ["Půda", "Voda", "Pracovna", "Akvarium", "Venku"], "as": ["serie", "value"]}],
"mark": {"type": "line", "strokeWidth": 2},
"encoding": {
"x": {"field": "i", "type": "ordinal", "scale": {"type": "point", "padding": 0},
"axis": {"title": null, "grid": true, "gridColor": "#dcdcdc", "labelAngle": 0, "labelOverlap": false, "labelFontSize": 11, "labelColor": "#444444", "labelFont": "DejaVu Sans", "ticks": false, "domainColor": "#888888", "labelPadding": 7}},
"y": {"field": "value", "type": "quantitative", "scale": {"domain": [0, 60], "nice": false}, "axis": {"title": null}},
"color": {"field": "serie", "type": "nominal",
"scale": {"domain": ["Půda", "Pracovna", "Venku", "Voda", "Akvarium"], "range": ["#6495ed", "#b22222", "#ff1493", "#4cb814", "#ffa500"]},
"legend": {"title": null, "orient": "none", "legendX": 455, "legendY": 707, "columns": 3, "direction": "horizontal", "strokeColor": "#777777", "fillColor": "white", "padding": 4, "symbolType": "stroke", "symbolStrokeWidth": 2, "symbolSize": 120, "labelFontSize": 11, "labelColor": "#333333", "labelFont": "DejaVu Sans", "columnPadding": 10, "rowPadding": 3, "labelOffset": 7}}
}
}
]
}
